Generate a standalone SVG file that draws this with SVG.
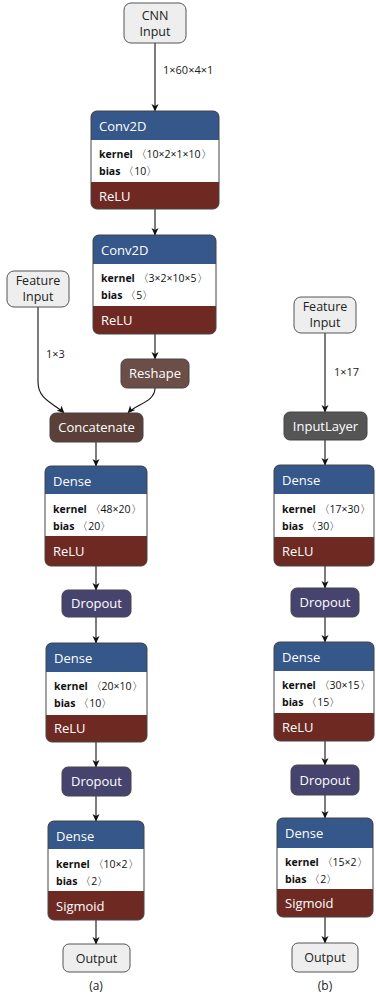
<svg xmlns="http://www.w3.org/2000/svg" width="376" height="996" viewBox="0 0 376 996">
<defs>
<marker id="ah" markerWidth="8" markerHeight="8" refX="7" refY="4" orient="auto" markerUnits="userSpaceOnUse">
<path d="M0,0.5 L7.5,4 L0,7.5 L2,4 Z" fill="#111"/>
</marker>
<style>
text{font-family:"Open Sans","Noto Sans","DejaVu Sans",sans-serif}
.io{fill:#eeeeee;stroke:#555;stroke-width:1}
.iot{font-size:12.5px;fill:#222;text-anchor:middle}
.hd{fill:#35578a}
.act{fill:#6e2a22}
.wh{fill:#ffffff}
.out{fill:none;stroke:#444;stroke-width:1}
.ht{font-size:13px;fill:#ffffff}
.kt{font-size:10.5px;fill:#111}
.kb{font-weight:bold}
.dp{fill:#46446f;stroke:#444;stroke-width:1}
.rs{fill:#6b4e47;stroke:#444;stroke-width:1}
.cc{fill:#5a4039;stroke:#444;stroke-width:1}
.il{fill:#555555;stroke:#444;stroke-width:1}
.ct{font-size:13px;fill:#ffffff;text-anchor:middle}
.lb{font-size:11px;fill:#222}
.cap{font-size:12px;fill:#222;text-anchor:middle}
.edge{fill:none;stroke:#111;stroke-width:1.1;marker-end:url(#ah)}
</style>
</defs>

<g id="connectors">
<path class="edge" d="M155,43 V111"/>
<path class="edge" d="M155,209 V235"/>
<path class="edge" d="M155,334 V359"/>
<path class="edge" d="M38,307 V382 C38,400 55,404 64,413"/>
<path class="edge" d="M155,388 C155,402 136,404 128,413"/>
<path class="edge" d="M96,442 V466"/>
<path class="edge" d="M96,566 V590"/>
<path class="edge" d="M96,617 V643"/>
<path class="edge" d="M96,742 V767"/>
<path class="edge" d="M96,796 V821"/>
<path class="edge" d="M96,920 V944"/>
<path class="edge" d="M325,333 V412"/>
<path class="edge" d="M325,440 V465"/>
<path class="edge" d="M325,566 V588"/>
<path class="edge" d="M325,617 V642"/>
<path class="edge" d="M325,741 V765"/>
<path class="edge" d="M325,795 V818"/>
<path class="edge" d="M325,917 V943"/>
<text class="lb" x="163" y="74">1×60×4×1</text>
<text class="lb" x="46" y="358">1×3</text>
<text class="lb" x="334" y="376">1×17</text>
</g>

<g id="cnn-input">
<rect class="io" x="124" y="3" width="62" height="40" rx="7"/>
<text class="iot" x="155" y="20">CNN</text>
<text class="iot" x="155" y="36">Input</text>
</g>

<g id="conv2d-1">
<rect class="act" x="91" y="111" width="128" height="98" rx="6"/>
<path class="hd" d="M91,140 V117 Q91,111 97,111 H213 Q219,111 219,117 V140 Z"/>
<rect class="wh" x="91" y="140" width="128" height="42"/>
<rect class="out" x="91" y="111" width="128" height="98" rx="6"/>
<text class="ht" x="99" y="131">Conv2D</text>
<text class="kt" x="99" y="158"><tspan class="kb">kernel</tspan> 〈10×2×1×10〉</text>
<text class="kt" x="99" y="175"><tspan class="kb">bias</tspan> 〈10〉</text>
<text class="ht" x="99" y="201">ReLU</text>
</g>

<g id="conv2d-2">
<rect class="act" x="93" y="235" width="123" height="99" rx="6"/>
<path class="hd" d="M93,264 V241 Q93,235 99,235 H210 Q216,235 216,241 V264 Z"/>
<rect class="wh" x="93" y="264" width="123" height="42"/>
<rect class="out" x="93" y="235" width="123" height="99" rx="6"/>
<text class="ht" x="101" y="255">Conv2D</text>
<text class="kt" x="101" y="282"><tspan class="kb">kernel</tspan> 〈3×2×10×5〉</text>
<text class="kt" x="101" y="299"><tspan class="kb">bias</tspan> 〈5〉</text>
<text class="ht" x="101" y="325">ReLU</text>
</g>

<g id="feature-input-a">
<rect class="io" x="7" y="271" width="62" height="36" rx="7"/>
<text class="iot" x="38" y="285">Feature</text>
<text class="iot" x="38" y="301">Input</text>
</g>

<g id="reshape">
<rect class="rs" x="121" y="359" width="68" height="29" rx="6"/>
<text class="ct" x="155" y="378">Reshape</text>
</g>

<g id="concatenate">
<rect class="cc" x="50" y="413" width="93" height="29" rx="6"/>
<text class="ct" x="96.5" y="432">Concatenate</text>
</g>

<g id="dense-a1">
<rect class="act" x="45" y="466" width="102" height="100" rx="6"/>
<path class="hd" d="M45,494 V472 Q45,466 51,466 H141 Q147,466 147,472 V494 Z"/>
<rect class="wh" x="45" y="494" width="102" height="42"/>
<rect class="out" x="45" y="466" width="102" height="100" rx="6"/>
<text class="ht" x="53" y="486">Dense</text>
<text class="kt" x="53" y="513"><tspan class="kb">kernel</tspan> 〈48×20〉</text>
<text class="kt" x="53" y="530"><tspan class="kb">bias</tspan> 〈20〉</text>
<text class="ht" x="53" y="556">ReLU</text>
</g>

<g id="dropout-a1">
<rect class="dp" x="62" y="590" width="69" height="27" rx="6"/>
<text class="ct" x="96.5" y="608">Dropout</text>
</g>

<g id="dense-a2">
<rect class="act" x="46" y="643" width="101" height="99" rx="6"/>
<path class="hd" d="M46,672 V649 Q46,643 52,643 H141 Q147,643 147,649 V672 Z"/>
<rect class="wh" x="46" y="672" width="101" height="43"/>
<rect class="out" x="46" y="643" width="101" height="99" rx="6"/>
<text class="ht" x="54" y="663">Dense</text>
<text class="kt" x="54" y="690"><tspan class="kb">kernel</tspan> 〈20×10〉</text>
<text class="kt" x="54" y="707"><tspan class="kb">bias</tspan> 〈10〉</text>
<text class="ht" x="54" y="733">ReLU</text>
</g>

<g id="dropout-a2">
<rect class="dp" x="62" y="767" width="69" height="29" rx="6"/>
<text class="ct" x="96.5" y="786">Dropout</text>
</g>

<g id="dense-a3">
<rect class="act" x="48" y="821" width="96" height="99" rx="6"/>
<path class="hd" d="M48,849 V827 Q48,821 54,821 H138 Q144,821 144,827 V849 Z"/>
<rect class="wh" x="48" y="849" width="96" height="42"/>
<rect class="out" x="48" y="821" width="96" height="99" rx="6"/>
<text class="ht" x="56" y="841">Dense</text>
<text class="kt" x="56" y="868"><tspan class="kb">kernel</tspan> 〈10×2〉</text>
<text class="kt" x="56" y="885"><tspan class="kb">bias</tspan> 〈2〉</text>
<text class="ht" x="56" y="911">Sigmoid</text>
</g>

<g id="output-a">
<rect class="io" x="63" y="944" width="67" height="28" rx="6"/>
<text class="iot" x="96.5" y="963">Output</text>
<text class="cap" x="96" y="990">(a)</text>
</g>

<g id="feature-input-b">
<rect class="io" x="294" y="297" width="62" height="36" rx="7"/>
<text class="iot" x="325" y="311">Feature</text>
<text class="iot" x="325" y="327">Input</text>
</g>

<g id="inputlayer">
<rect class="il" x="284" y="412" width="83" height="28" rx="6"/>
<text class="ct" x="325.5" y="431">InputLayer</text>
</g>

<g id="dense-b1">
<rect class="act" x="274" y="465" width="100" height="101" rx="6"/>
<path class="hd" d="M274,494 V471 Q274,465 280,465 H368 Q374,465 374,471 V494 Z"/>
<rect class="wh" x="274" y="494" width="100" height="43"/>
<rect class="out" x="274" y="465" width="100" height="101" rx="6"/>
<text class="ht" x="282" y="485">Dense</text>
<text class="kt" x="282" y="513"><tspan class="kb">kernel</tspan> 〈17×30〉</text>
<text class="kt" x="282" y="530"><tspan class="kb">bias</tspan> 〈30〉</text>
<text class="ht" x="282" y="556">ReLU</text>
</g>

<g id="dropout-b1">
<rect class="dp" x="291" y="588" width="68" height="29" rx="6"/>
<text class="ct" x="325" y="607">Dropout</text>
</g>

<g id="dense-b2">
<rect class="act" x="274" y="642" width="100" height="99" rx="6"/>
<path class="hd" d="M274,671 V648 Q274,642 280,642 H368 Q374,642 374,648 V671 Z"/>
<rect class="wh" x="274" y="671" width="100" height="42"/>
<rect class="out" x="274" y="642" width="100" height="99" rx="6"/>
<text class="ht" x="282" y="662">Dense</text>
<text class="kt" x="282" y="689"><tspan class="kb">kernel</tspan> 〈30×15〉</text>
<text class="kt" x="282" y="706"><tspan class="kb">bias</tspan> 〈15〉</text>
<text class="ht" x="282" y="732">ReLU</text>
</g>

<g id="dropout-b2">
<rect class="dp" x="291" y="765" width="68" height="30" rx="6"/>
<text class="ct" x="325" y="785">Dropout</text>
</g>

<g id="dense-b3">
<rect class="act" x="277" y="818" width="96" height="99" rx="6"/>
<path class="hd" d="M277,848 V824 Q277,818 283,818 H367 Q373,818 373,824 V848 Z"/>
<rect class="wh" x="277" y="848" width="96" height="41"/>
<rect class="out" x="277" y="818" width="96" height="99" rx="6"/>
<text class="ht" x="285" y="838">Dense</text>
<text class="kt" x="285" y="866"><tspan class="kb">kernel</tspan> 〈15×2〉</text>
<text class="kt" x="285" y="883"><tspan class="kb">bias</tspan> 〈2〉</text>
<text class="ht" x="285" y="908">Sigmoid</text>
</g>

<g id="output-b">
<rect class="io" x="292" y="943" width="66" height="29" rx="6"/>
<text class="iot" x="325" y="962">Output</text>
<text class="cap" x="325" y="990">(b)</text>
</g>
</svg>
